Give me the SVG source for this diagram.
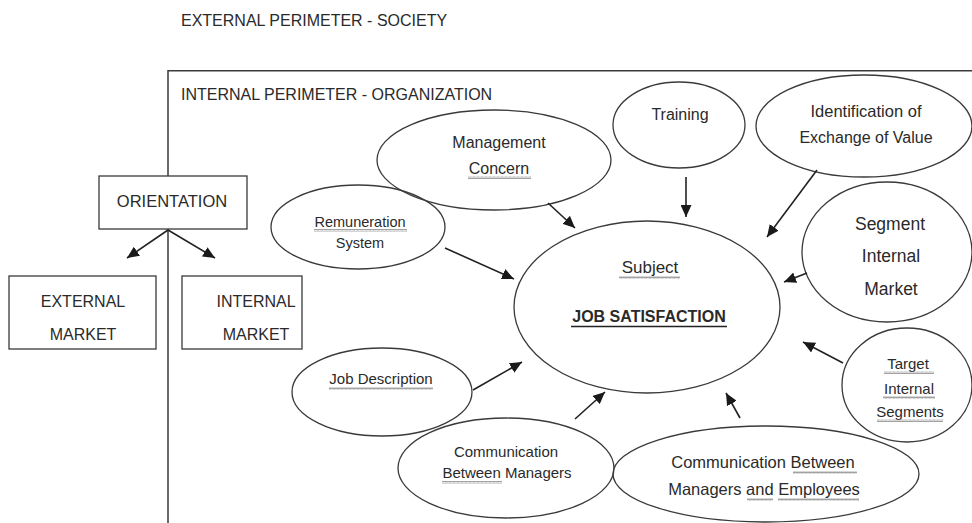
<svg xmlns="http://www.w3.org/2000/svg" width="972" height="523" viewBox="0 0 972 523">
  <style>
    .t { font-family: "Liberation Sans", Arial, sans-serif; fill: #2a2a2a; text-anchor: middle; }
    .ts { font-family: "Liberation Sans", Arial, sans-serif; fill: #2a2a2a; }
    .shape { fill: #fff; stroke: #3a3a3a; stroke-width: 1.3; }
    .ell { fill: none; stroke: #3a3a3a; stroke-width: 1.3; }
    .conn { stroke: #222; stroke-width: 1.6; fill: none; marker-end: url(#arr); }
    .wavy { fill: url(#wv); }
  </style>
  <defs>
    <marker id="arr" markerUnits="userSpaceOnUse" markerWidth="13" markerHeight="11" refX="12" refY="5.5" orient="auto">
      <path d="M0,0 L12,5.5 L0,11 Z" fill="#1a1a1a"/>
    </marker>
    <pattern id="wv" width="4" height="3" patternUnits="userSpaceOnUse">
      <path d="M0,2.5 L1,0.5 L2,2.5 L3,0.5 L4,2.5" fill="none" stroke="#8a8a8a" stroke-width="0.8"/>
    </pattern>
  </defs>

  <!-- perimeters -->
  <g id="external-perimeter">
    <text class="ts" x="181" y="26" font-size="16">EXTERNAL PERIMETER - SOCIETY</text>
  </g>
  <g id="internal-perimeter">
    <path d="M168,523 L168,70.7 L972,70.7" fill="none" stroke="#3a3a3a" stroke-width="1.5"/>
    <text class="ts" x="181" y="100" font-size="16">INTERNAL PERIMETER - ORGANIZATION</text>
  </g>

  <!-- left boxes -->
  <g id="orientation">
    <rect class="shape" x="99" y="176" width="148" height="53"/>
    <text class="t" x="172" y="207" font-size="16.5">ORIENTATION</text>
  </g>
  <g id="external-market">
    <rect class="shape" x="9" y="276" width="147" height="73"/>
    <text class="t" x="83" y="307" font-size="16">EXTERNAL</text>
    <text class="t" x="83" y="340" font-size="16">MARKET</text>
  </g>
  <g id="internal-market">
    <rect class="shape" x="182" y="276" width="120" height="73"/>
    <text class="t" x="256" y="307" font-size="16">INTERNAL</text>
    <text class="t" x="256" y="340" font-size="16">MARKET</text>
  </g>

  <!-- central node -->
  <g id="job-satisfaction">
    <ellipse class="ell" cx="647" cy="307" rx="133" ry="86"/>
    <text class="t" x="650" y="273" font-size="17">Subject</text>
    <rect class="wavy" x="619" y="276" width="61" height="3"/>
    <text class="t" x="649" y="322" font-size="16" font-weight="bold">JOB SATISFACTION</text>
    <line x1="571" y1="326.5" x2="727" y2="326.5" stroke="#222" stroke-width="1.6"/>
  </g>

  <g id="management-concern">
    <ellipse class="ell" cx="494" cy="160" rx="117" ry="50"/>
    <text class="t" x="499" y="148" font-size="16">Management</text>
    <text class="t" x="499" y="174" font-size="16">Concern</text>
    <rect class="wavy" x="468" y="176" width="63" height="3"/>
  </g>

  <g id="training">
    <ellipse class="ell" cx="679" cy="125" rx="66" ry="43"/>
    <text class="t" x="680" y="120" font-size="16">Training</text>
  </g>

  <g id="identification">
    <ellipse class="ell" cx="864" cy="126" rx="108" ry="51"/>
    <text class="t" x="866" y="117" font-size="16.5">Identification of</text>
    <text class="t" x="866" y="143" font-size="16">Exchange of Value</text>
  </g>

  <g id="remuneration-system">
    <ellipse class="ell" cx="358" cy="227" rx="87" ry="42"/>
    <text class="t" x="360" y="227" font-size="14.5">Remuneration</text>
    <rect class="wavy" x="314" y="229" width="93" height="3"/>
    <text class="t" x="360" y="248" font-size="14.5">System</text>
  </g>

  <g id="segment-internal-market">
    <ellipse class="ell" cx="887" cy="252" rx="85" ry="70"/>
    <text class="t" x="890" y="230" font-size="17.5">Segment</text>
    <text class="t" x="891" y="262" font-size="17.5">Internal</text>
    <text class="t" x="891" y="295" font-size="17.5">Market</text>
  </g>

  <g id="target-internal-segments">
    <ellipse class="ell" cx="907" cy="385" rx="65" ry="57"/>
    <text class="t" x="908" y="369" font-size="15">Target</text>
    <rect class="wavy" x="884" y="371" width="50" height="3"/>
    <text class="t" x="909" y="394" font-size="15">Internal</text>
    <rect class="wavy" x="883" y="396" width="52" height="3"/>
    <text class="t" x="910" y="417" font-size="15">Segments</text>
    <rect class="wavy" x="877" y="419" width="66" height="3"/>
  </g>

  <g id="job-description">
    <ellipse class="ell" cx="382" cy="392" rx="90" ry="44"/>
    <text class="t" x="381" y="384" font-size="15">Job Description</text>
    <rect class="wavy" x="329" y="387" width="104" height="3"/>
  </g>

  <g id="communication-managers">
    <ellipse class="ell" cx="506" cy="468" rx="108" ry="50"/>
    <text class="t" x="506" y="457" font-size="15">Communication</text>
    <text class="t" x="507" y="478" font-size="15">Between Managers</text>
    <rect class="wavy" x="442" y="481" width="60" height="3"/>
  </g>

  <g id="communication-managers-employees">
    <ellipse class="ell" cx="766" cy="474" rx="153" ry="48"/>
    <text class="t" x="763" y="468" font-size="16.5">Communication Between</text>
    <rect class="wavy" x="793" y="471" width="64" height="3"/>
    <text class="t" x="764" y="495" font-size="16.5">Managers and Employees</text>
    <rect class="wavy" x="747" y="498" width="26" height="3"/>
    <rect class="wavy" x="778" y="498" width="81" height="3"/>
  </g>

  <!-- connectors -->
  <g id="connectors">
    <line class="conn" x1="168" y1="230" x2="127" y2="258"/>
    <line class="conn" x1="168" y1="230" x2="215" y2="258"/>
    <line class="conn" x1="548" y1="203" x2="575" y2="228"/>
    <line class="conn" x1="686" y1="177" x2="686" y2="217"/>
    <line class="conn" x1="817" y1="170" x2="767" y2="237"/>
    <line class="conn" x1="807" y1="273" x2="784" y2="282"/>
    <line class="conn" x1="445" y1="248" x2="514" y2="279"/>
    <line class="conn" x1="473" y1="390" x2="522" y2="362"/>
    <line class="conn" x1="575" y1="419" x2="605" y2="392"/>
    <line class="conn" x1="740" y1="418" x2="726" y2="393"/>
    <line class="conn" x1="843" y1="363" x2="803" y2="342"/>
  </g>
</svg>
